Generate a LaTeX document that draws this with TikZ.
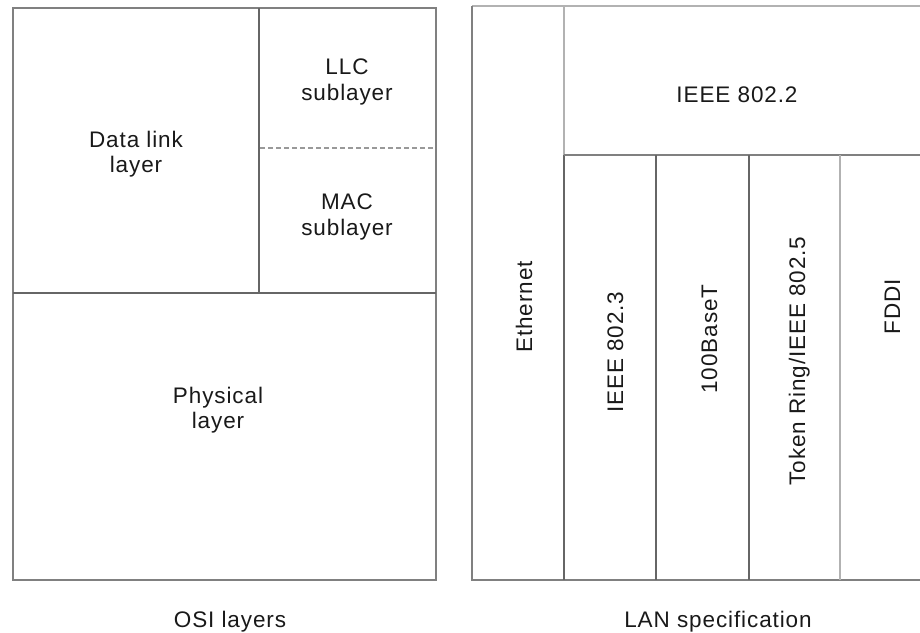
\documentclass[tikz,border=0pt]{standalone}
\usepackage{fontspec}
\setmainfont[LetterSpace=4]{Liberation Sans}
\begin{document}
\begin{tikzpicture}[x=1pt,y=-1pt,
  lbl/.style={inner sep=0pt, font=\fontsize{22.5}{25.5}\selectfont, text=black!90},
  mlbl/.style={lbl, align=center},
  vlbl/.style={lbl, rotate=90, anchor=base},
  hlbl/.style={lbl, anchor=base},
  frame/.style={draw=black!50, line width=1.8pt},
  darkline/.style={draw=black!60, line width=1.8pt},
  lightline/.style={draw=black!30, line width=1.8pt},
  dashline/.style={draw=black!40, line width=1.8pt, dash pattern=on 5pt off 3pt}]
\useasboundingbox (0,0) rectangle (920,632);
% ---- OSI layers box ----
\draw[frame] (13,8) rectangle (436,580);
\draw[darkline] (259,8) -- (259,293);
\draw[darkline] (13,293) -- (436,293);
\draw[dashline] (260,148) -- (435,148);
\node[mlbl] (dl) at (136,154) {Data link\\layer};
\node[mlbl] (llc) at (347,82) {LLC\\sublayer};
\node[mlbl] (mac) at (347,217) {MAC\\sublayer};
\node[mlbl] (phy) at (218,410) {Physical\\layer};
\node[hlbl] (osi) at (230,627) {OSI layers};
% ---- LAN specification box ----
\draw[lightline] (472,6) -- (920,6);
\draw[frame] (472,6) -- (472,580) -- (920,580);
\draw[lightline] (564,6) -- (564,155);
\draw[darkline] (564,155) -- (564,580);
\draw[frame] (564,155) -- (920,155);
\draw[darkline] (656,155) -- (656,580);
\draw[darkline] (749,155) -- (749,580);
\draw[lightline] (840,155) -- (840,580);
\node[hlbl] (i8022) at (737,102) {IEEE 802.2};
\node[vlbl] (eth) at (532,307) {Ethernet};
\node[vlbl] (i8023) at (623,352) {IEEE 802.3};
\node[vlbl] (bt) at (717,339) {100BaseT};
\node[vlbl] (tr) at (805,361) {Token Ring/IEEE 802.5};
\node[vlbl] (fddi) at (900,307) {FDDI};
\node[hlbl] (lan) at (718,627) {LAN specification};
\end{tikzpicture}
\end{document}
